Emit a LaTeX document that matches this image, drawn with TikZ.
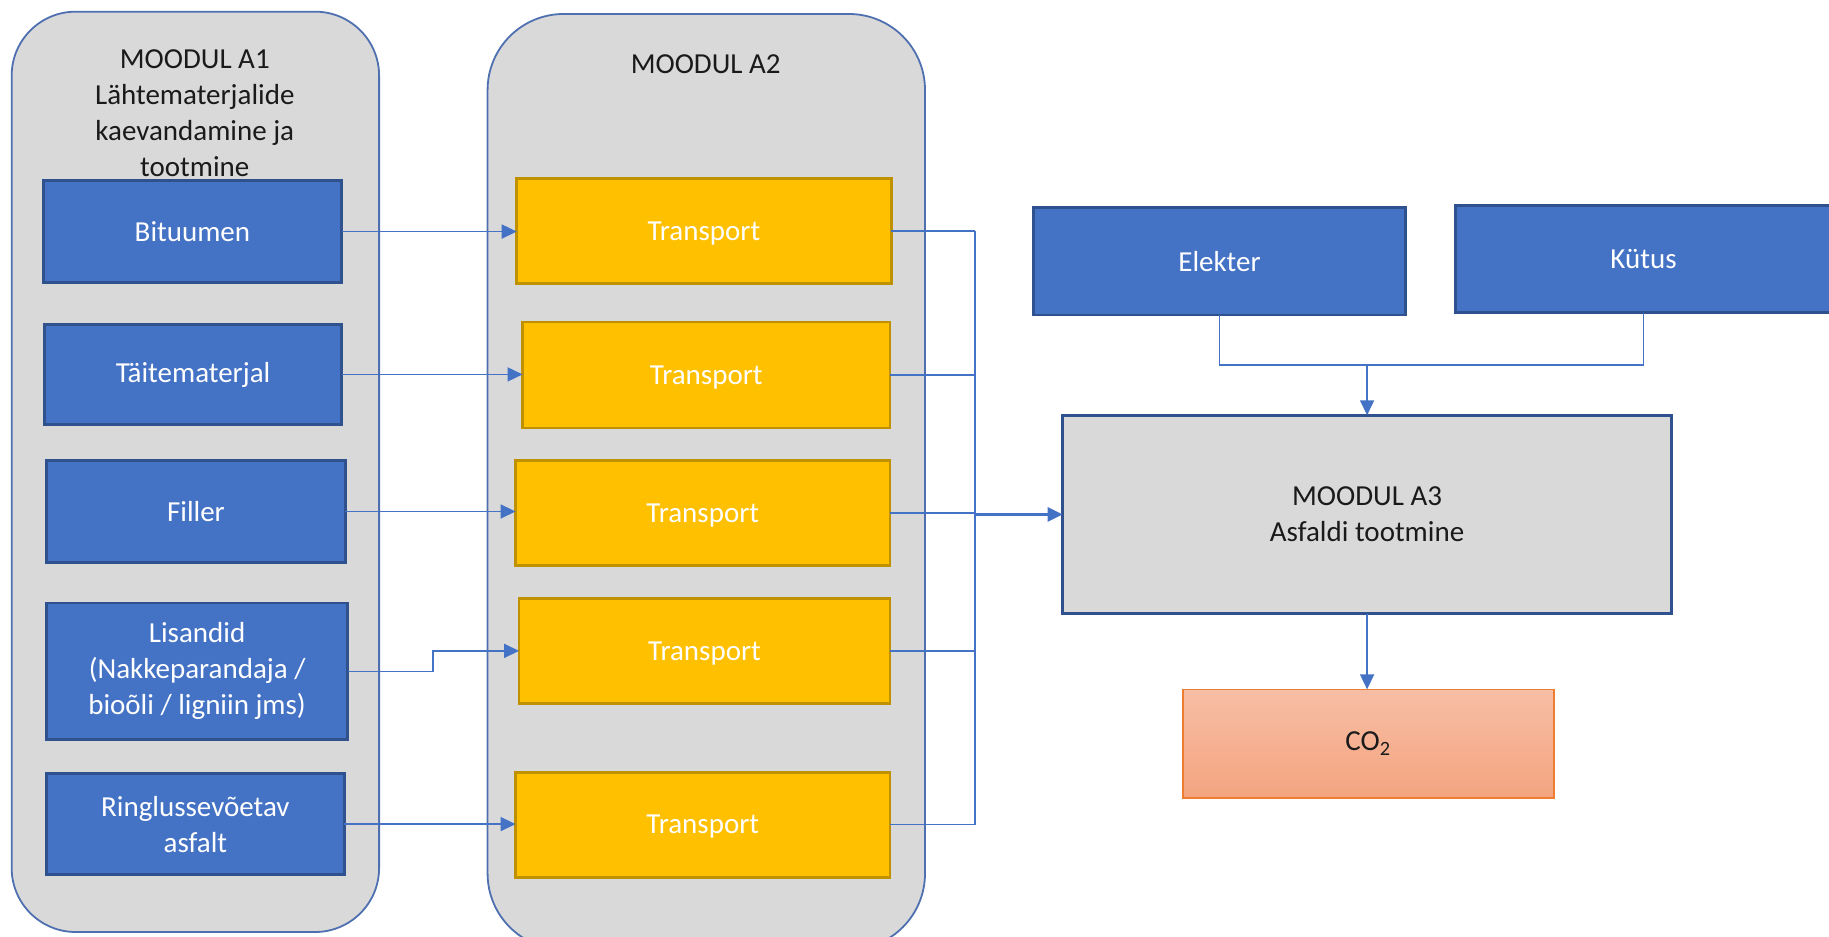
\documentclass[tikz,border=0pt]{standalone}
\usepackage{fontspec}
\setmainfont{Carlito}
\usetikzlibrary{arrows.meta}
\definecolor{bfill}{HTML}{4472C4}
\definecolor{bdraw}{HTML}{2F528F}
\definecolor{yfill}{HTML}{FFC000}
\definecolor{ydraw}{HTML}{BF9000}
\definecolor{gfill}{HTML}{D9D9D9}
\definecolor{cdraw}{HTML}{4F70B0}
\definecolor{lcol}{HTML}{4472C4}
\definecolor{otop}{HTML}{F7BEA5}
\definecolor{obot}{HTML}{F4A47F}
\definecolor{odraw}{HTML}{ED7D31}
\definecolor{txt}{HTML}{1A1A1A}
\newcommand\placebox[7]{\node[#6, minimum width={(#4-#2)*0.58325pt}, minimum height={(#5-#3)*0.58325pt}] (#1) at ({(#2+#4)/2},{(#3+#5)/2}) {#7};}
\tikzset{
  base/.style={inner sep=0pt, outer sep=0pt, align=center, font=\fontsize{14.5pt}{18pt}\selectfont},
  bluebox/.style={base, draw=bdraw, line width=1.4pt, fill=bfill, text=white},
  transbox/.style={base, draw=ydraw, line width=1.4pt, fill=yfill, text=white, text depth=0pt},
  modbox/.style={base, draw=bdraw, line width=1.4pt, fill=gfill, text=txt},
  co2box/.style={base, draw=odraw, line width=0.8pt, top color=otop, bottom color=obot, text=txt},
  container/.style={draw=cdraw, line width=0.9pt, fill=gfill},
  title/.style={base, text=txt},
  conn/.style={draw=lcol, line width=0.8pt},
  arr/.style={conn, -{Triangle[length=7.5pt,width=7pt]}}
}
\begin{document}
\begin{tikzpicture}[x=0.58325pt,y=-0.58325pt]
\useasboundingbox (0,0) rectangle (1568,803);
% containers
\draw[container, rounded corners=32pt] (10,10) rectangle (325,799);
\draw[container, rounded corners=38pt] (418,12) rectangle (793,814);
\node[title] (t1title) at (167,97) {MOODUL A1\\Lähtematerjalide\\kaevandamine ja\\tootmine};
\node[title] (t2title) at (605,55) {MOODUL A2};
% A1 boxes
\placebox{bit}{37}{155}{293}{242}{bluebox}{Bituumen}
\placebox{tai}{38}{278}{293}{364}{bluebox}{Täitematerjal}
\placebox{fil}{40}{395}{296}{482}{bluebox}{Filler}
\placebox{lis}{40}{517}{298}{634}{bluebox}{Lisandid\\(Nakkeparandaja /\\bioõli / ligniin jms)}
\placebox{rin}{40}{663}{295}{750}{bluebox}{Ringlussevõetav\\asfalt}
% transport boxes
\placebox{tr1}{443}{153}{764}{243}{transbox}{Transport}
\placebox{tr2}{448}{276}{763}{367}{transbox}{Transport}
\placebox{tr3}{442}{395}{763}{485}{transbox}{Transport}
\placebox{tr4}{445}{513}{763}{603}{transbox}{Transport}
\placebox{tr5}{442}{662}{763}{752}{transbox}{Transport}
% right side
\placebox{ele}{886}{178}{1205}{270}{bluebox}{Elekter}
\placebox{kut}{1248}{176}{1570}{268}{bluebox}{Kütus}
\placebox{a3}{911}{356}{1433}{526}{modbox}{MOODUL A3\\Asfaldi tootmine}
\placebox{co2}{1014}{591}{1332}{684}{co2box}{CO\textsubscript{2}}
% connectors A1 -> A2
\draw[arr] (bit.east) -- (tr1.west |- bit.east);
\draw[arr] (tai.east) -- (tr2.west |- tai.east);
\draw[arr] (fil.east) -- (tr3.west |- fil.east);
\draw[arr] (lis.east) -- ++(73,0) |- (tr4.west);
\draw[arr] (rin.east) -- (tr5.west |- rin.east);
% bus
\coordinate (bus) at (836,0);
\foreach \t in {tr1,tr2,tr3,tr4,tr5} {\draw[conn] (\t.east) -- (\t.east -| bus);}
\draw[conn] (tr1.east -| bus) -- (tr5.east -| bus);
\draw[arr, line width=1.5pt] (a3.west -| bus) -- (a3.west);
% energy
\coordinate (j) at (1172,313);
\draw[conn] (ele.south) |- (j) -| (kut.south);
\draw[arr] (j) -- (a3.north);
\draw[arr] (a3.south) -- (co2.north -| a3.south);
\end{tikzpicture}
\end{document}
